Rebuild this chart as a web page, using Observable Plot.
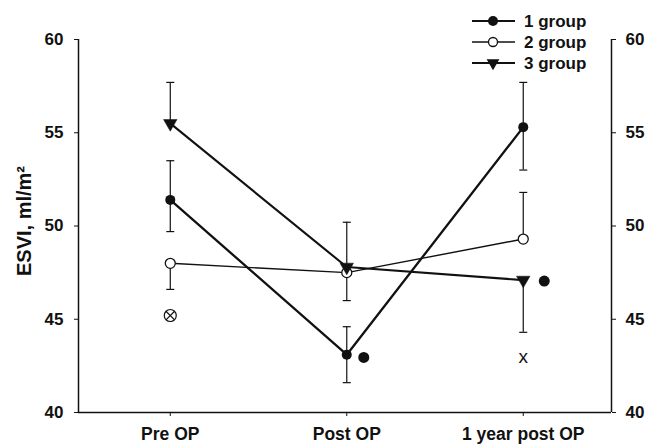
<!DOCTYPE html>
<html>
<head>
<meta charset="utf-8">
<script src="https://cdn.jsdelivr.net/npm/d3@7"></script>
<script src="https://cdn.jsdelivr.net/npm/@observablehq/plot@0.6"></script>
<style>
  body { margin: 0; background: white; }
  #wrap { position: relative; width: 647px; height: 444px; }
  #legend { position: absolute; left: 0; top: 0; pointer-events: none; }
</style>
</head>
<body>
<div id="wrap"></div>
<script>
// ---- data ----
const categories = ["Pre OP", "Post OP", "1 year post OP"];
const groups = ["1 group", "2 group", "3 group"];
const group1 = [51.4, 43.1, 55.3];
const group1Low = [49.7, 41.6, 53.0];
const group1High = [53.5, 44.6, 57.7];
const group2 = [48.0, 47.5, 49.3];
const group2Low = [46.6, 46.0, null];
const group2High = [null, null, 51.8];
const group3 = [55.5, 47.8, 47.1];
const group3Low = [null, null, 44.3];
const group3High = [57.7, 50.2, null];
const yTicks = [40, 45, 50, 55, 60];
const yLabel = "ESVI, ml/m\u00B2";
// significance annotations: category index, value, symbol
const annotCategory = [0, 1, 2, 2];
const annotValue = [45.2, 42.95, 43.0, 47.05];
const annotSymbol = ["otimes", "dot", "x", "dot"];

// ---- build table ----
const series = [
  {name: groups[0], v: group1, lo: group1Low, hi: group1High},
  {name: groups[1], v: group2, lo: group2Low, hi: group2High},
  {name: groups[2], v: group3, lo: group3Low, hi: group3High}
];
const rows = [];
series.forEach(s => s.v.forEach((v, i) => rows.push({group: s.name, i, value: v, low: s.lo[i], high: s.hi[i]})));
const annots = annotCategory.map((c, k) => ({i: c, value: annotValue[k], sym: annotSymbol[k]}));

const xDomain = [-0.52, 2.5];
const font = "'Liberation Sans', Arial, sans-serif";
const capSymbol = {draw(ctx, size) { const r = Math.sqrt(size / Math.PI); ctx.moveTo(-r, 0); ctx.lineTo(r, 0); }};

const up = rows.filter(d => d.high != null);
const down = rows.filter(d => d.low != null);
const caps = [...up.map(d => ({i: d.i, v: d.high})), ...down.map(d => ({i: d.i, v: d.low}))];
const byGroup = g => rows.filter(d => d.group === g);

const chart = Plot.plot({
  width: 647, height: 444,
  marginLeft: 78, marginRight: 36, marginTop: 39, marginBottom: 32,
  x: {domain: xDomain, axis: null},
  y: {domain: [40, 60], axis: null},
  style: {fontFamily: font, background: "white", color: "#111"},
  marks: [
    // axis lines
    Plot.ruleX([xDomain[0]], {y1: 40, y2: 60, stroke: "#111", strokeWidth: 1.5}),
    Plot.ruleX([xDomain[1]], {y1: 40, y2: 60, stroke: "#111", strokeWidth: 1.5}),
    Plot.ruleY([40], {x1: xDomain[0], x2: xDomain[1], stroke: "#111", strokeWidth: 1.5}),
    Plot.axisY({anchor: "left", ticks: yTicks, tickSize: 4, tickPadding: 11, label: null, fontSize: 17, fontWeight: "bold"}),
    Plot.axisY({anchor: "right", ticks: yTicks, tickSize: 4, tickPadding: 10, label: null, fontSize: 17, fontWeight: "bold"}),
    Plot.axisX({ticks: [0, 1, 2], tickFormat: i => categories[i], tickSize: 4, tickPadding: 11, label: null, fontSize: 17.5, fontWeight: "bold"}),
    Plot.text([yLabel], {frameAnchor: "left", textAnchor: "middle", lineAnchor: "middle", dx: -54, dy: -5, rotate: -90, fontSize: 20, fontWeight: "bold", fill: "#111"}),
    // error bars
    Plot.ruleX(up, {x: "i", y1: "value", y2: "high", stroke: "#111", strokeWidth: 1.2}),
    Plot.ruleX(down, {x: "i", y1: "value", y2: "low", stroke: "#111", strokeWidth: 1.2}),
    Plot.dot(caps, {x: "i", y: "v", symbol: capSymbol, r: 4, stroke: "#111", strokeWidth: 1.2}),
    // lines
    Plot.line(byGroup(groups[1]), {x: "i", y: "value", stroke: "#111", strokeWidth: 1.4}),
    Plot.line(byGroup(groups[2]), {x: "i", y: "value", stroke: "#111", strokeWidth: 2.1}),
    Plot.line(byGroup(groups[0]), {x: "i", y: "value", stroke: "#111", strokeWidth: 2.3}),
    // markers
    Plot.dot(byGroup(groups[1]), {x: "i", y: "value", r: 5, fill: "white", stroke: "#111", strokeWidth: 1.3}),
    Plot.dot(byGroup(groups[2]), {x: "i", y: "value", symbol: "triangle", rotate: 180, r: 5, fill: "#111", stroke: "#111", strokeWidth: 0.5}),
    Plot.dot(byGroup(groups[0]), {x: "i", y: "value", r: 5, fill: "#111"}),
    // annotations
    Plot.dot(annots.filter(d => d.sym === "otimes"), {x: "i", y: "value", r: 6, fill: "white", stroke: "#111", strokeWidth: 1.2}),
    Plot.dot(annots.filter(d => d.sym === "otimes"), {x: "i", y: "value", symbol: "times", r: 4, stroke: "#111", strokeWidth: 1.2}),
    Plot.dot(annots.filter(d => d.sym === "dot" && d.i === 1), {x: "i", y: "value", dx: 17, r: 5.5, fill: "#111"}),
    Plot.dot(annots.filter(d => d.sym === "dot" && d.i === 2), {x: "i", y: "value", dx: 21, r: 5.5, fill: "#111"}),
    Plot.text(annots.filter(d => d.sym === "x"), {x: "i", y: "value", text: () => "x", fontSize: 19, fill: "#111"})
  ]
});
const wrap = document.getElementById("wrap");
wrap.appendChild(chart);

// ---- legend ----
const leg = d3.select(wrap).append("svg").attr("id", "legend").attr("width", 647).attr("height", 80);
const legRowsY = [21, 42, 63];
const legWidths = [2.2, 1.3, 2];
groups.forEach((g, k) => {
  const y = legRowsY[k];
  leg.append("line").attr("x1", 472).attr("x2", 515).attr("y1", y).attr("y2", y)
    .attr("stroke", "#111").attr("stroke-width", legWidths[k]);
  if (k === 0) leg.append("circle").attr("cx", 493).attr("cy", y).attr("r", 5).attr("fill", "#111");
  if (k === 1) leg.append("circle").attr("cx", 493).attr("cy", y).attr("r", 4.5).attr("fill", "white").attr("stroke", "#111").attr("stroke-width", 1.3);
  if (k === 2) leg.append("path").attr("transform", `translate(493,${y}) rotate(180)`).attr("d", d3.symbol(d3.symbolTriangle, 70)()).attr("fill", "#111");
  leg.append("text").attr("x", 524).attr("y", y).attr("dy", "0.36em")
    .attr("font-family", font).attr("font-weight", "bold").attr("font-size", 17).attr("fill", "#111").text(g);
});
</script>
</body>
</html>
